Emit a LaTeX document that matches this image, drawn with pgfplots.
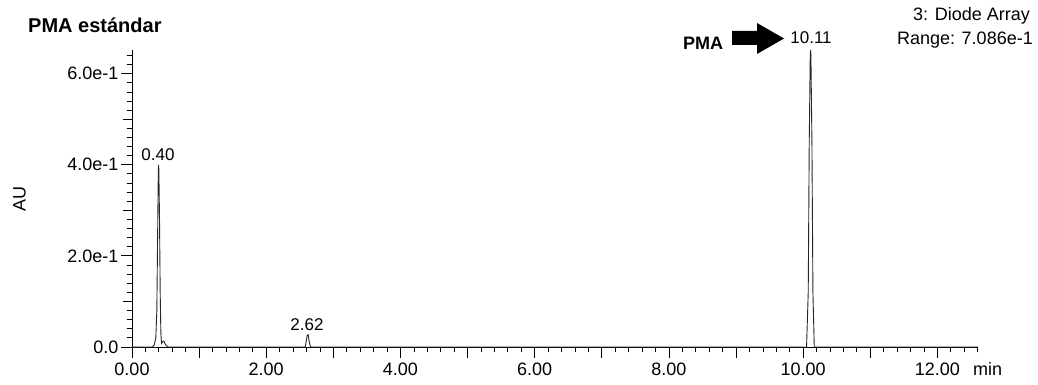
\documentclass[border=0pt]{standalone}
\usepackage{fontspec}
\setmainfont{Liberation Sans}
\usepackage{pgfplots}
\pgfplotsset{compat=1.18}
\newcommand\tl{\fontsize{18}{20}\selectfont}
\begin{document}
\begin{tikzpicture}[x=1pt,y=1pt]
\useasboundingbox (0,0) rectangle (1038,385);
\begin{axis}[
  at={(132pt,38pt)}, anchor=south west,
  scale only axis, width=845.7pt, height=297pt,
  xmin=0, xmax=12.6, ymin=0, ymax=0.652,
  axis x line*=bottom, axis y line*=left,
  axis line style={line width=0.8pt},
  tick align=outside,
  major tick length=11pt, minor tick length=5.5pt,
  every tick/.style={black, line width=0.8pt},
  xtick={0,1,2,3,4,5,6,7,8,9,10,11,12},
  xticklabels={0.00,,2.00,,4.00,,6.00,,8.00,,10.00,,12.00},
  minor xtick={0.2,0.4,0.6,0.8,1.2,1.4,1.6,1.8,2.2,2.4,2.6,2.8,3.2,3.4,3.6,3.8,4.2,4.4,4.6,4.8,5.2,5.4,5.6,5.8,6.2,6.4,6.6,6.8,7.2,7.4,7.6,7.8,8.2,8.4,8.6,8.8,9.2,9.4,9.6,9.8,10.2,10.4,10.6,10.8,11.2,11.4,11.6,11.8,12.2,12.4,12.6},
  ytick={0,0.2,0.4,0.6},
  yticklabels={0.0,2.0e-1,4.0e-1,6.0e-1},
  minor ytick={0.02,0.04,0.06,0.08,0.12,0.14,0.16,0.18,0.22,0.24,0.26,0.28,0.32,0.34,0.36,0.38,0.42,0.44,0.46,0.48,0.52,0.54,0.56,0.58,0.62,0.64},
  extra y ticks={0.1,0.3,0.5},
  extra y tick labels={},
  extra y tick style={major tick length=9pt},
  font=\tl,
  every tick label/.append style={font=\tl},
  xticklabel style={font=\tl, yshift=-1pt},
  yticklabel style={font=\tl, xshift=1pt},
  /pgf/number format/assume math mode=true,
  clip=false,
]
\addplot[black!85, line width=0.9pt] coordinates {
(0,0) (0.30,0) (0.33,0.004) (0.355,0.02) (0.37,0.08) (0.38,0.22) (0.39,0.36) (0.395,0.40) (0.40,0.39) (0.41,0.28) (0.42,0.12) (0.43,0.03) (0.44,0.008) (0.46,0.012) (0.475,0.013) (0.49,0.008) (0.51,0.003) (0.54,0) 
(2.58,0) (2.595,0.012) (2.61,0.026) (2.625,0.027) (2.64,0.012) (2.66,0) 
(10.05,0) (10.075,0.12) (10.09,0.45) (10.105,0.64) (10.11,0.652) (10.115,0.64) (10.13,0.45) (10.145,0.12) (10.165,0) (12.6,0)
};
\end{axis}
% annotations
\node[anchor=base west, inner sep=0, font=\bfseries\fontsize{20}{22}\selectfont] at (28,352) {PMA estándar};
\node[anchor=base west, inner sep=0, font=\bfseries\fontsize{18}{20}\selectfont] at (683,335) {PMA};
\fill[black] (732,354) -- (757,354) -- (757,362) -- (784,346.5) -- (757,331) -- (757,340) -- (732,340) -- cycle;
\node[anchor=base, inner sep=0, font=\fontsize{17}{19}\selectfont] at (811,341.7) {10.11};
\node[anchor=base, inner sep=0, font=\fontsize{17}{19}\selectfont] at (158,224) {0.40};
\node[anchor=base, inner sep=0, font=\fontsize{17}{19}\selectfont] at (307,54) {2.62};
\node[anchor=base east, inner sep=0, font=\tl] at (1030,364) {3: Diode Array};
\node[anchor=base east, inner sep=0, font=\tl] at (1033,340) {Range: 7.086e-1};
\node[rotate=90, inner sep=0, font=\tl] at (19.5,185.5) {AU};
\node[anchor=base west, inner sep=0, font=\tl] at (973,9) {min};
\end{tikzpicture}
\end{document}
